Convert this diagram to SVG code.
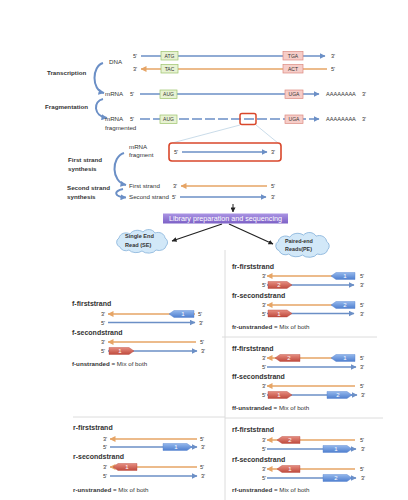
<svg xmlns="http://www.w3.org/2000/svg" width="408" height="500" viewBox="0 0 408 500">
<style>
text{font-family:"Liberation Sans",Arial,sans-serif;fill:#333}
.b{font-weight:bold}
.lb{font-size:6.2px;font-weight:bold}
.rg{font-size:6.2px}
.p{font-size:5.6px}
.h{font-size:7px;font-weight:bold}
.u{font-size:6.2px}
.bx{font-size:5px;text-anchor:middle}
.n{font-size:6px;fill:#fff;text-anchor:middle}
.bl{stroke:#6b8fc6;stroke-width:1.5;fill:none}
.or{stroke:#e6a465;stroke-width:1.5;fill:none}
.gb{fill:#e7f2d2;stroke:#9cc46c;stroke-width:0.7}
.pb{fill:#f6cdc8;stroke:#dc8a80;stroke-width:0.7}
.bp{fill:url(#gB);stroke:#4f7fcf;stroke-width:0.4;stroke-linejoin:round}
.rp{fill:url(#gR);stroke:#b84438;stroke-width:0.4;stroke-linejoin:round}
.dv{stroke:#dcdcdc;stroke-width:1}
.cl{fill:#d2e8f8;stroke:#86b2da;stroke-width:0.8}
.br{stroke:#6b8fc6;stroke-width:2;fill:none}
</style>
<defs>
<linearGradient id="gB" x1="0" y1="0" x2="0" y2="1"><stop offset="0" stop-color="#93b7ec"/><stop offset="1" stop-color="#4f7fcf"/></linearGradient>
<linearGradient id="gR" x1="0" y1="0" x2="0" y2="1"><stop offset="0" stop-color="#e68d80"/><stop offset="1" stop-color="#bf4a3d"/></linearGradient>
<linearGradient id="gP" x1="0" y1="0" x2="0" y2="1"><stop offset="0" stop-color="#ab95e4"/><stop offset="1" stop-color="#7c60c6"/></linearGradient>
<marker id="ab" viewBox="0 0 6 6" refX="5.5" refY="3" markerWidth="6" markerHeight="6" markerUnits="userSpaceOnUse" orient="auto"><path d="M0,0 L6,3 L0,6 z" fill="#6b8fc6"/></marker>
<marker id="ao" viewBox="0 0 6 6" refX="5.5" refY="3" markerWidth="6" markerHeight="6" markerUnits="userSpaceOnUse" orient="auto"><path d="M0,0 L6,3 L0,6 z" fill="#e6a465"/></marker>
<marker id="ak" viewBox="0 0 6 6" refX="5.5" refY="3" markerWidth="5" markerHeight="5" markerUnits="userSpaceOnUse" orient="auto"><path d="M0,0 L6,3 L0,6 z" fill="#222"/></marker>
<path id="cloud" d="M6,17 A5,5 0 0 1 5,8 A7,6 0 0 1 16,4 A8,6 0 0 1 29,2 A7,6 0 0 1 41,3 A7,6 0 0 1 51,8 A5,5 0 0 1 52,16 A7,5 0 0 1 42,20 A8,5 0 0 1 28,21 A8,5 0 0 1 15,20 A6,5 0 0 1 6,17 Z"/>
</defs>
<rect width="408" height="500" fill="#fff"/>

<g id="connectors">
<path class="br" d="M103,63 C92,66 91,90 104,93" marker-end="url(#ab)"/>
<path class="br" d="M103,99 C93,101 93,116 107,118" marker-end="url(#ab)"/>
<path class="br" d="M124,153 C111,157 111,182 126,185" marker-end="url(#ab)"/>
<path class="br" d="M123,189 C113,191 114,197 126,197.5" marker-end="url(#ab)"/>
<line x1="240" y1="125" x2="172" y2="143" stroke="#bcd3e3" stroke-width="0.8"/>
<line x1="256" y1="125" x2="278" y2="143" stroke="#bcd3e3" stroke-width="0.8"/>
<line x1="233" y1="204" x2="233" y2="212" stroke="#222" stroke-width="1" marker-end="url(#ak)"/>
<line x1="222" y1="224" x2="172" y2="241" stroke="#222" stroke-width="1.2" marker-end="url(#ak)"/>
<line x1="229" y1="224" x2="273" y2="244" stroke="#222" stroke-width="1.2" marker-end="url(#ak)"/>
</g>

<g id="steps">
<text class="lb" x="47" y="75">Transcription</text>
<text class="lb" x="45" y="109">Fragmentation</text>
<text class="lb" x="68" y="162">First strand</text>
<text class="lb" x="68" y="171">synthesis</text>
<text class="lb" x="67" y="190">Second strand</text>
<text class="lb" x="67" y="199">synthesis</text>
</g>

<g id="dna">
<text class="rg" x="109" y="64">DNA</text>
<text class="p" x="133" y="58">5'</text>
<line class="bl" x1="141" y1="56" x2="325" y2="56" marker-end="url(#ab)"/>
<text class="p" x="331" y="58">3'</text>
<text class="p" x="133" y="71">3'</text>
<line class="or" x1="327" y1="69" x2="141" y2="69" marker-end="url(#ao)"/>
<text class="p" x="331" y="71">5'</text>
<rect class="gb" x="161" y="51.5" width="17" height="8.5"/><text class="bx" x="169.5" y="57.7" fill="#4d6b2a">ATG</text>
<rect class="gb" x="161" y="64.5" width="17" height="8.5"/><text class="bx" x="169.5" y="70.7" fill="#4d6b2a">TAC</text>
<rect class="pb" x="283" y="51.5" width="20" height="8.5"/><text class="bx" x="293" y="57.7" fill="#a0473d">TGA</text>
<rect class="pb" x="283" y="64.5" width="20" height="8.5"/><text class="bx" x="293" y="70.7" fill="#a0473d">ACT</text>
</g>

<g id="mrna">
<text class="rg" x="105" y="96">mRNA</text>
<text class="p" x="130" y="96">5'</text>
<line class="bl" x1="140" y1="94" x2="319" y2="94" marker-end="url(#ab)"/>
<rect class="gb" x="160" y="90" width="17" height="8.5"/><text class="bx" x="168.5" y="96.2" fill="#4d6b2a">AUG</text>
<rect class="pb" x="285" y="90" width="18" height="8.5"/><text class="bx" x="294" y="96.2" fill="#a0473d">UGA</text>
<text class="p" x="326" y="96">AAAAAAAA</text>
<text class="p" x="362" y="96">3'</text>
</g>

<g id="mrna-fragmented">
<text class="rg" x="105" y="121">mRNA</text>
<text class="rg" x="105" y="129.5">fragmented</text>
<text class="p" x="130" y="121">5'</text>
<line class="bl" x1="140" y1="119" x2="319" y2="119" stroke-dasharray="10,3" marker-end="url(#ab)"/>
<rect class="gb" x="160" y="115" width="17" height="8.5"/><text class="bx" x="168.5" y="121.2" fill="#4d6b2a">AUG</text>
<rect class="pb" x="285" y="115" width="18" height="8.5"/><text class="bx" x="294" y="121.2" fill="#a0473d">UGA</text>
<text class="p" x="326" y="121">AAAAAAAA</text>
<text class="p" x="362" y="121">3'</text>
<rect x="240" y="113.5" width="16" height="11" rx="2" fill="none" stroke="#d9472b" stroke-width="1.5"/>
</g>

<g id="mrna-fragment">
<text class="rg" x="129" y="149">mRNA</text>
<text class="rg" x="129" y="157">fragment</text>
<rect x="169" y="143" width="112" height="18" rx="3" fill="#fff" stroke="#d9472b" stroke-width="1.6"/>
<text class="p" x="174" y="154">5'</text>
<line class="bl" x1="182" y1="152" x2="267" y2="152" marker-end="url(#ab)"/>
<text class="p" x="271" y="154">3'</text>
</g>

<g id="first-strand">
<text class="rg" x="129" y="188">First strand</text>
<text class="p" x="173" y="188">3'</text>
<line class="or" x1="267" y1="186" x2="181" y2="186" marker-end="url(#ao)"/>
<text class="p" x="271" y="188">5'</text>
</g>
<g id="second-strand">
<text class="rg" x="129" y="199">Second strand</text>
<text class="p" x="172" y="199">5'</text>
<line class="bl" x1="180" y1="197" x2="266" y2="197" marker-end="url(#ab)"/>
<text class="p" x="271" y="199">3'</text>
</g>

<g id="library">
<rect x="163" y="213.5" width="125" height="10" fill="url(#gP)"/>
<text x="225.5" y="221" font-size="7.2px" text-anchor="middle" style="fill:#fff">Library preparation and sequencing</text>
</g>

<g id="se">
<use href="#cloud" class="cl" transform="translate(114,230)"/>
<text class="b" x="125" y="238" font-size="5.6px">Single End</text>
<text class="b" x="125" y="246.5" font-size="5.6px">Read (SE)</text>
</g>
<g id="pe">
<use href="#cloud" class="cl" transform="translate(273,233) scale(1.05)"/>
<text class="b" x="285" y="243" font-size="5.4px">Paired-end</text>
<text class="b" x="285" y="251" font-size="5.4px">Reads(PE)</text>
</g>

<g id="dividers">
<line class="dv" x1="225" y1="250" x2="225" y2="500"/>
<line class="dv" x1="73" y1="417" x2="225" y2="417"/>
<line class="dv" x1="222" y1="337" x2="377" y2="337"/>
<line class="dv" x1="225" y1="418" x2="383" y2="418"/>
</g>

<g id="f-section">
<text class="h" x="72" y="306">f-firststrand</text>
<text class="p" x="101" y="316">3'</text>
<line class="or" x1="195" y1="314" x2="108" y2="314" marker-end="url(#ao)"/>
<path class="bp" d="M194,310.5 H174 L169,314 L174,317.5 H194 Z"/><text class="n" x="183" y="316.2">1</text>
<text class="p" x="198" y="316">5'</text>
<text class="p" x="101" y="324.5">5'</text>
<line class="bl" x1="108" y1="322.5" x2="195" y2="322.5" marker-end="url(#ab)"/>
<text class="p" x="199" y="324.5">3'</text>
<text class="h" x="72" y="335">f-secondstrand</text>
<text class="p" x="101" y="344">3'</text>
<line class="or" x1="196" y1="342" x2="108" y2="342" marker-end="url(#ao)"/>
<text class="p" x="200" y="344">5'</text>
<text class="p" x="101" y="353">5'</text>
<line class="bl" x1="108" y1="351" x2="197" y2="351" marker-end="url(#ab)"/>
<path class="rp" d="M109,347.5 H129 L134,351 L129,354.5 H109 Z"/><text class="n" x="120" y="353.2">1</text>
<text class="p" x="201" y="353">3'</text>
<text class="u" x="72" y="366"><tspan class="b">f-unstranded</tspan> = Mix of both</text>
</g>

<g id="r-section">
<text class="h" x="73" y="430">r-firststrand</text>
<text class="p" x="103" y="441">3'</text>
<line class="or" x1="197" y1="439" x2="110" y2="439" marker-end="url(#ao)"/>
<text class="p" x="200" y="441">5'</text>
<text class="p" x="103" y="449">5'</text>
<line class="bl" x1="110" y1="447" x2="197" y2="447" marker-end="url(#ab)"/>
<path class="bp" d="M163,443.5 H187 L192,447 L187,450.5 H163 Z"/><text class="n" x="176" y="449.2">1</text>
<text class="p" x="201" y="449">3'</text>
<text class="h" x="73" y="459">r-secondstrand</text>
<text class="p" x="103" y="469">3'</text>
<line class="or" x1="197" y1="467" x2="110" y2="467" marker-end="url(#ao)"/>
<path class="rp" d="M137,463.5 H118 L113,467 L118,470.5 H137 Z"/><text class="n" x="127" y="469.2">1</text>
<text class="p" x="200" y="469">5'</text>
<text class="p" x="103" y="478">5'</text>
<line class="bl" x1="110" y1="476" x2="197" y2="476" marker-end="url(#ab)"/>
<text class="p" x="201" y="478">3'</text>
<text class="u" x="73" y="492"><tspan class="b">r-unstranded</tspan> = Mix of both</text>
</g>

<g id="fr-section">
<text class="h" x="232" y="268.5">fr-firststrand</text>
<text class="p" x="262" y="278">3'</text>
<line class="or" x1="355" y1="276" x2="267" y2="276" marker-end="url(#ao)"/>
<path class="bp" d="M355,272.5 H336 L331,276 L336,279.5 H355 Z"/><text class="n" x="345" y="278.2">1</text>
<text class="p" x="360" y="278">5'</text>
<text class="p" x="262" y="287">5'</text>
<line class="bl" x1="267" y1="285" x2="354" y2="285" marker-end="url(#ab)"/>
<path class="rp" d="M268,281.5 H287 L292,285 L287,288.5 H268 Z"/><text class="n" x="279" y="287.2">2</text>
<text class="p" x="360" y="287">3'</text>
<text class="h" x="232" y="297.5">fr-secondstrand</text>
<text class="p" x="262" y="307">3'</text>
<line class="or" x1="355" y1="305" x2="267" y2="305" marker-end="url(#ao)"/>
<path class="bp" d="M355,301.5 H336 L331,305 L336,308.5 H355 Z"/><text class="n" x="345" y="307.2">2</text>
<text class="p" x="360" y="307">5'</text>
<text class="p" x="262" y="315.5">5'</text>
<line class="bl" x1="267" y1="313.5" x2="354" y2="313.5" marker-end="url(#ab)"/>
<path class="rp" d="M268,310 H287 L292,313.5 L287,317 H268 Z"/><text class="n" x="279" y="315.7">1</text>
<text class="p" x="360" y="315.5">3'</text>
<text class="u" x="232" y="329"><tspan class="b">fr-unstranded</tspan> = Mix of both</text>
</g>

<g id="ff-section">
<text class="h" x="232" y="350.5">ff-firststrand</text>
<text class="p" x="262" y="360">3'</text>
<line class="or" x1="355" y1="358" x2="267" y2="358" marker-end="url(#ao)"/>
<path class="rp" d="M300,354.5 H280 L275,358 L280,361.5 H300 Z"/><text class="n" x="289" y="360.2">2</text>
<path class="bp" d="M355,354.5 H336 L331,358 L336,361.5 H355 Z"/><text class="n" x="345" y="360.2">1</text>
<text class="p" x="360" y="360">5'</text>
<text class="p" x="262" y="369">5'</text>
<line class="bl" x1="267" y1="367" x2="356" y2="367" marker-end="url(#ab)"/>
<text class="p" x="360" y="369">3'</text>
<text class="h" x="232" y="378.5">ff-secondstrand</text>
<text class="p" x="262" y="388">3'</text>
<line class="or" x1="355" y1="386" x2="267" y2="386" marker-end="url(#ao)"/>
<text class="p" x="360" y="388">5'</text>
<text class="p" x="262" y="397">5'</text>
<line class="bl" x1="267" y1="395" x2="357" y2="395" marker-end="url(#ab)"/>
<path class="rp" d="M268,391.5 H287 L292,395 L287,398.5 H268 Z"/><text class="n" x="279" y="397.2">1</text>
<path class="bp" d="M327,391.5 H347 L352,395 L347,398.5 H327 Z"/><text class="n" x="338" y="397.2">2</text>
<text class="p" x="361" y="397">3'</text>
<text class="u" x="232" y="410"><tspan class="b">ff-unstranded</tspan> = Mix of both</text>
</g>

<g id="rf-section">
<text class="h" x="232" y="431.5">rf-firststrand</text>
<text class="p" x="262" y="442">3'</text>
<line class="or" x1="355" y1="440" x2="267" y2="440" marker-end="url(#ao)"/>
<path class="rp" d="M300,436.5 H282 L277,440 L282,443.5 H300 Z"/><text class="n" x="290" y="442.2">2</text>
<text class="p" x="360" y="442">5'</text>
<text class="p" x="262" y="451">5'</text>
<line class="bl" x1="267" y1="449" x2="356" y2="449" marker-end="url(#ab)"/>
<path class="bp" d="M323,445.5 H347 L352,449 L347,452.5 H323 Z"/><text class="n" x="336" y="451.2">1</text>
<text class="p" x="361" y="451">3'</text>
<text class="h" x="232" y="461.5">rf-secondstrand</text>
<text class="p" x="262" y="471">3'</text>
<line class="or" x1="355" y1="469" x2="267" y2="469" marker-end="url(#ao)"/>
<path class="rp" d="M300,465.5 H282 L277,469 L282,472.5 H300 Z"/><text class="n" x="290" y="471.2">1</text>
<text class="p" x="360" y="471">5'</text>
<text class="p" x="262" y="480">5'</text>
<line class="bl" x1="267" y1="478" x2="356" y2="478" marker-end="url(#ab)"/>
<path class="bp" d="M323,474.5 H347 L352,478 L347,481.5 H323 Z"/><text class="n" x="336" y="480.2">2</text>
<text class="p" x="361" y="480">3'</text>
<text class="u" x="232" y="491.5"><tspan class="b">rf-unstranded</tspan> = Mix of both</text>
</g>
</svg>
